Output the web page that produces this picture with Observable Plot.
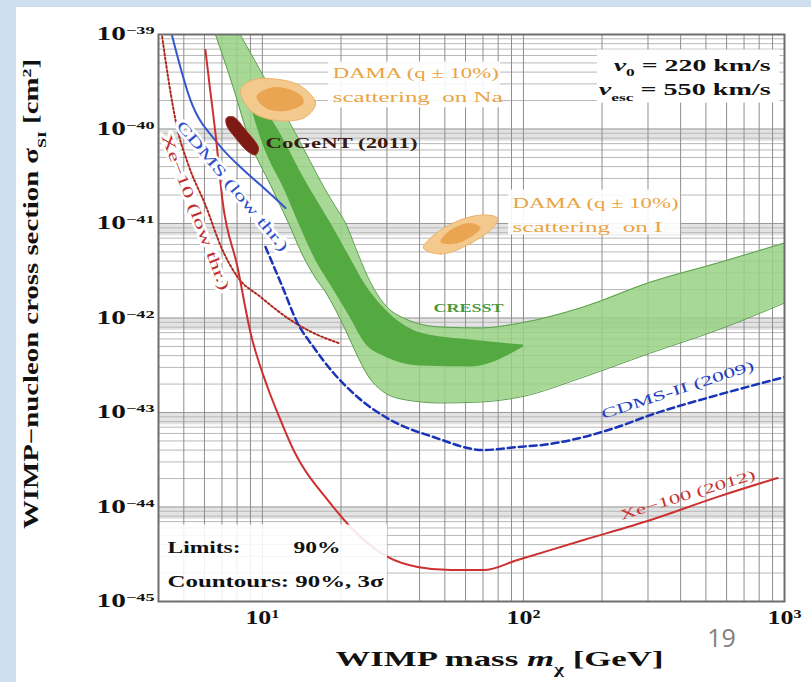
<!DOCTYPE html>
<html><head><meta charset="utf-8">
<script src="https://cdn.jsdelivr.net/npm/d3@7"></script>
<script src="https://cdn.jsdelivr.net/npm/@observablehq/plot@0.6"></script>
<style>
html,body{margin:0;padding:0;background:#fff;}
#wrap{position:relative;width:811px;height:682px;overflow:hidden;background:#fff;}
#chart{position:absolute;left:0;top:0;}
.strip{position:absolute;background:#cfdff0;}
</style></head><body>
<div id="wrap"><div id="chart"></div>
<div class="strip" style="left:0;top:0;width:811px;height:7px"></div>
<div class="strip" style="left:0;top:0;width:16px;height:682px"></div></div>
<script>
// ---------- data (WIMP mass in GeV, cross section in cm^2) ----------
const cresstMass   = [6.61, 7.68, 9.01, 10.74, 12.59, 14.25, 15.98, 17.45, 19.06, 20.82, 22.75, 25.28, 29.11, 35.36, 48.14, 68.5, 97.5, 170, 306.9, 554.4, 1000];
const cresst2Low   = [1.0e-39, 2.92e-40, 7.11e-41, 2.55e-41, 1.01e-41, 4.64e-42, 2.65e-42, 1.88e-42, 1.22e-42, 7.46e-43, 4.37e-43, 2.49e-43, 1.65e-43, 1.36e-43, 1.26e-43, 1.29e-43, 1.46e-43, 2.37e-43, 4.26e-43, 7.46e-43, 1.44e-42];
const cresst2High  = [3e-39, 1.40e-39, 6.37e-40, 2.67e-40, 1.23e-40, 6.49e-41, 3.54e-41, 2.26e-41, 1.51e-41, 1.01e-41, 5.55e-42, 2.76e-42, 1.44e-42, 9.76e-43, 8.03e-43, 7.84e-43, 8.85e-43, 1.31e-42, 2.40e-42, 3.82e-42, 6.22e-42];
const cresst1Mass  = [8.62, 10.0, 12.26, 14.0, 15.98, 18.24, 21.38, 24.84, 29.63, 40.35, 62.72, 100.1];
const cresst1Low   = [2.78e-40, 7.11e-41, 2.15e-41, 9.06e-42, 4.11e-42, 2.23e-42, 1.08e-42, 5.31e-43, 3.87e-43, 3.10e-43, 3.03e-43, 4.93e-43];
const cresst1High  = [2.99e-40, 1.79e-40, 7.11e-41, 3.51e-41, 1.86e-41, 1.01e-41, 4.64e-42, 2.23e-42, 1.22e-42, 6.94e-43, 5.85e-43, 5.18e-43];

const cdmsLowMass  = [4.45, 5.30, 6.73, 8.47, 9.84, 12.26];
const cdmsLowSigma = [1.12e-39, 2.03e-40, 7.11e-41, 3.68e-41, 2.55e-41, 1.46e-41];

const cdms2Mass    = [10.28, 11.94, 13.63, 15.70, 18.73, 23.14, 30.97, 45.25, 70.35, 94.95, 127, 170, 229.4, 306.9, 554.4, 1000];
const cdms2Sigma   = [5.64e-42, 2.13e-42, 8.85e-43, 4.93e-43, 2.62e-43, 1.46e-43, 8.33e-44, 5.50e-44, 4.01e-44, 4.31e-44, 4.65e-44, 5.50e-44, 7.02e-44, 9.41e-44, 1.53e-43, 2.37e-43];

const xe100Mass    = [6.05, 6.32, 6.61, 7.03, 8.03, 9.01, 10.46, 11.73, 13.16, 14.0, 17.77, 21.76, 30.16, 39.29, 52.59, 70.35, 94.95, 170, 306.9, 554.4, 941];
const xe100Sigma   = [6.85e-40, 2.49e-40, 9.07e-41, 1.77e-41, 3.46e-42, 6.94e-43, 1.86e-43, 8.33e-44, 4.01e-44, 2.92e-44, 1.19e-44, 6.14e-45, 2.96e-45, 2.32e-45, 2.15e-45, 2.15e-45, 2.75e-45, 4.47e-45, 7.29e-45, 1.28e-44, 2.03e-44];

const xe10Mass     = [4.11, 4.37, 4.69, 5.21, 6.05, 7.03, 8.03, 9.84, 12.82, 15.70, 19.57];
const xe10Sigma    = [1.05e-39, 3.30e-40, 1.10e-40, 4.16e-41, 1.57e-41, 5.25e-42, 2.72e-42, 1.67e-42, 9.52e-43, 6.94e-43, 5.44e-43];

const damaNaMass   = [8.25, 9.16, 11.23, 14.0, 15.98, 14.63, 11.73, 9.16];
const damaNaSigma  = [2.59e-40, 3.30e-40, 3.38e-40, 2.85e-40, 1.88e-40, 1.34e-40, 1.22e-40, 1.51e-40];
const damaNaInMass = [9.5, 11.23, 14.0, 14.38, 12.26, 10.28];
const damaNaInSig  = [2.23e-40, 2.78e-40, 2.29e-40, 1.88e-40, 1.55e-40, 1.67e-40];
const damaIMass    = [41.4, 48.14, 60.0, 76.1, 79.6, 69.7, 54.9, 44.07];
const damaISigma   = [5.51e-42, 4.75e-42, 5.78e-42, 8.96e-42, 1.14e-41, 1.23e-41, 1.04e-41, 7.03e-42];
const damaIInMass  = [48.14, 56.4, 68.5, 62.72, 52.59];
const damaIInSig   = [6.37e-42, 6.22e-42, 8.96e-42, 1.01e-41, 8.53e-42];
const cogentMass   = [7.29, 7.75, 8.62, 9.66, 9.41, 8.85, 7.89, 7.29];
const cogentSigma  = [1.31e-40, 1.34e-40, 9.76e-41, 6.29e-41, 5.31e-41, 5.71e-41, 8.04e-41, 1.10e-40];

const xTicks = [10, 100, 1000];
const yTicks = [1e-45, 1e-44, 1e-43, 1e-42, 1e-41, 1e-40, 1e-39];

// annotation texts and anchors (mass, sigma)
const damaNaText  = ["DAMA (q ± 10%)", "scattering  on Na"];
const damaNaTextS = [3.92e-40, 2.18e-40];
const damaIText   = ["DAMA (q ± 10%)", "scattering  on I"];
const damaITextS  = [1.65e-41, 9.18e-42];
const velText     = ["*{v}_{0} = 220 km/s", "*{v}_{esc} = 550 km/s"];
const velTextS    = [4.75e-40, 2.59e-40];

// ---------- helpers ----------
const pts = (ms, ss) => ms.map((m, i) => ({m, s: ss[i]}));
const band = (ms, lo, hi) => ms.map((m, i) => ({m, lo: lo[i], hi: hi[i]}));
const xGrid = [];
for (const b of [1, 10, 100]) for (let k = 1; k <= 9; k++) if (k * b >= 4) xGrid.push(k * b);
xGrid.push(1000);
const yMinor = [];
for (const d of yTicks.slice(0, -1)) for (let k = 2; k <= 9; k++) yMinor.push(k * d);
const bandDecades = yTicks.slice(1, -1);
const expFmt = d => "10^{" + String(Math.round(Math.log10(d))).replace("-", "−") + "}";
const serif = "'Liberation Serif', 'Times New Roman', serif";

const chart = Plot.plot({
  width: 811, height: 682,
  marginLeft: 158, marginRight: 27, marginTop: 34, marginBottom: 81,
  style: {background: "transparent", fontFamily: serif, color: "#111"},
  x: {type: "log", domain: [4, 1000]},
  y: {type: "log", domain: [1e-45, 1e-39]},
  marks: [
    // grid
    Plot.rect(bandDecades, {x1: () => 4, x2: () => 1000, y1: d => d * 0.74, y2: d => d, fill: "#e3e3e3"}),
    Plot.ruleY(yMinor, {stroke: "#b8b8b8", strokeWidth: 1}),
    Plot.ruleY(yTicks, {stroke: "#9a9a9a", strokeWidth: 1.2}),
    Plot.ruleX(xGrid, {stroke: "#8e8e8e", strokeWidth: 1}),
    // CRESST bands
    Plot.area(band(cresstMass, cresst2Low, cresst2High), {x1: "m", y1: "lo", y2: "hi", fill: "#98d184", fillOpacity: 0.85, curve: "monotone-x", clip: true}),
    Plot.line(pts(cresstMass, cresst2Low), {x: "m", y: "s", stroke: "#5d9e4e", strokeWidth: 1, curve: "monotone-x", clip: true}),
    Plot.line(pts(cresstMass, cresst2High), {x: "m", y: "s", stroke: "#5d9e4e", strokeWidth: 1, curve: "monotone-x", clip: true}),
    Plot.area(band(cresst1Mass, cresst1Low, cresst1High), {x1: "m", y1: "lo", y2: "hi", fill: "#4fa83c", fillOpacity: 0.95, curve: "monotone-x", clip: true}),
    // DAMA and CoGeNT regions
    Plot.line(pts(damaNaMass, damaNaSigma), {x: "m", y: "s", curve: "catmull-rom-closed", fill: "#f4c98e", stroke: "#eab26a", strokeWidth: 1}),
    Plot.line(pts(damaNaInMass, damaNaInSig), {x: "m", y: "s", curve: "catmull-rom-closed", fill: "#eaa552", stroke: "none"}),
    Plot.line(pts(damaIMass, damaISigma), {x: "m", y: "s", curve: "catmull-rom-closed", fill: "#f4c98e", stroke: "#eab26a", strokeWidth: 1}),
    Plot.line(pts(damaIInMass, damaIInSig), {x: "m", y: "s", curve: "catmull-rom-closed", fill: "#eaa552", stroke: "none"}),
    Plot.line(pts(cogentMass, cogentSigma), {x: "m", y: "s", curve: "catmull-rom-closed", fill: "#7d1a14", stroke: "#9a2a20", strokeWidth: 1}),
    // limits
    Plot.line(pts(xe10Mass, xe10Sigma), {x: "m", y: "s", stroke: "#b02a22", strokeWidth: 2, strokeDasharray: "2,2.2", curve: "monotone-x", clip: true}),
    Plot.line(pts(cdmsLowMass, cdmsLowSigma), {x: "m", y: "s", stroke: "#3456cc", strokeWidth: 2, curve: "monotone-x", clip: true}),
    Plot.line(pts(cdms2Mass, cdms2Sigma), {x: "m", y: "s", stroke: "#1a34b8", strokeWidth: 2.5, strokeDasharray: "7,4", curve: "monotone-x", clip: true}),
    Plot.line(pts(xe100Mass, xe100Sigma), {x: "m", y: "s", stroke: "#cc3030", strokeWidth: 2, curve: "monotone-x", clip: true}),
    // boxes behind annotations
    Plot.rect([0], {x1: () => 192, x2: () => 960, y1: () => 1.88e-40, y2: () => 6.85e-40, fill: "white"}),
    Plot.rect([0], {x1: () => 17.9, x2: () => 81.7, y1: () => 1.67e-40, y2: () => 5.12e-40, fill: "white", fillOpacity: 0.9}),
    Plot.rect([0], {x1: () => 87.7, x2: () => 400, y1: () => 7.55e-42, y2: () => 2.26e-41, fill: "white", fillOpacity: 0.9}),
    Plot.rect([0], {x1: () => 4, x2: () => 30.16, y1: () => 1e-45, y2: () => 6.45e-45, fill: "white", fillOpacity: 0.88}),
    // labels
    Plot.text(damaNaText, {x: () => 18.6, y: (d, i) => damaNaTextS[i], textAnchor: "start", fill: "#e9a443", fontSize: 15, fontWeight: "normal"}),
    Plot.text(damaIText, {x: () => 90.8, y: (d, i) => damaITextS[i], textAnchor: "start", fill: "#e9a443", fontSize: 15, fontWeight: "normal"}),
    Plot.text(["CoGeNT (2011)"], {x: () => 10.28, y: () => 7.11e-41, textAnchor: "start", fill: "#3a1a12", fontSize: 15, fontWeight: "bold"}),
    Plot.text(["CRESST"], {x: () => 61.6, y: () => 1.28e-42, fill: "#4a9a3a", fontSize: 13, fontWeight: "bold"}),
    Plot.text(["CDMS-II (2009)"], {x: () => 389.5, y: () => 1.73e-43, rotate: -18, fill: "#2540c0", fontSize: 14, fontWeight: "normal"}),
    Plot.text(["Xe−100 (2012)"], {x: () => 425.5, y: () => 1.34e-44, rotate: -17, fill: "#c83232", fontSize: 14, fontWeight: "normal"}),
    Plot.text(["CDMS (low thr.)"], {x: () => 7.68, y: () => 2.49e-41, rotate: 50, fill: "#3050c8", fontSize: 15, fontWeight: "normal", stroke: "white", strokeWidth: 5}),
    Plot.text(["Xe−10 (low thr.)"], {x: () => 5.54, y: () => 1.32e-41, rotate: 69, fill: "#c03030", fontSize: 15, fontWeight: "normal", stroke: "white", strokeWidth: 5}),
    Plot.text(velText, {x: () => 885, y: (d, i) => velTextS[i], textAnchor: "end", fill: "#111", fontSize: 17, fontWeight: "bold"}),
    Plot.text(["Limits:"], {x: () => 4.33, y: () => 3.68e-45, textAnchor: "start", fontSize: 16, fontWeight: "bold"}),
    Plot.text(["90%"], {x: () => 13.16, y: () => 3.68e-45, textAnchor: "start", fontSize: 16, fontWeight: "bold"}),
    Plot.text(["Countours: 90%, 3σ"], {x: () => 4.33, y: () => 1.61e-45, textAnchor: "start", fontSize: 16, fontWeight: "bold"}),
    // frame and axes
    Plot.frame({stroke: "#6e6e6e", strokeWidth: 2}),
    Plot.axisY({ticks: yTicks, tickFormat: expFmt, tickSize: 0, tickPadding: 4, fontSize: 18, fontWeight: "bold", label: null}),
    Plot.axisX({ticks: xTicks, tickFormat: expFmt, tickSize: 0, tickPadding: 9, fontSize: 19, fontWeight: "bold", label: null}),
    Plot.text(["WIMP−nucleon cross section σ_{SI} [cm^{2}]"], {frameAnchor: "left", dx: -127, dy: -24, rotate: -90, textAnchor: "middle", lineAnchor: "middle", fontSize: 21, fontWeight: "bold"}),
    Plot.text(["WIMP mass *{m}_{χ} [GeV]"], {frameAnchor: "bottom", dx: 28, dy: 57, textAnchor: "middle", lineAnchor: "middle", fontSize: 22, fontWeight: "bold"}),
    Plot.text(["19"], {frameAnchor: "bottom-right", dx: -63, dy: 37, textAnchor: "middle", lineAnchor: "middle", fontSize: 25, fontWeight: "normal", fontFamily: "'Open Sans', 'Liberation Sans', sans-serif", fill: "#808080"})
  ]
});
document.getElementById("chart").appendChild(chart);

// widths of the (horizontally stretched) texts in the original figure, px
const textWidths = {
  "WIMP−nucleon cross section σ_{SI} [cm^{2}]": 470,
  "WIMP mass *{m}_{χ} [GeV]": 328,
  "DAMA (q ± 10%)": 166,
  "scattering  on Na": 170,
  "scattering  on I": 150,
  "CoGeNT (2011)": 152,
  "CRESST": 70,
  "CDMS-II (2009)": 160,
  "Xe−100 (2012)": 141,
  "CDMS (low thr.)": 165,
  "Xe−10 (low thr.)": 166,
  "*{v}_{0} = 220 km/s": 157,
  "*{v}_{esc} = 550 km/s": 172,
  "Limits:": 73,
  "90%": 47,
  "Countours: 90%, 3σ": 216
};
const root = d3.select(chart);
root.selectAll('g[aria-label="y-axis tick label"] text').attr("data-w", 58);
root.selectAll('g[aria-label="x-axis tick label"] text').attr("data-w", 34);
root.selectAll("text").each(function () {
  const t = this.textContent;
  if (textWidths[t]) this.setAttribute("data-w", textWidths[t]);
  if (!/[_^*]\{/.test(t)) return;
  const parts = t.split(/([_^*]\{[^}]*\})/);
  this.textContent = "";
  for (const p of parts) {
    if (!p) continue;
    const m = p.match(/^([_^*])\{([^}]*)\}$/);
    const ts = d3.select(this).append("tspan");
    if (!m) { ts.text(p); continue; }
    ts.text(m[2]);
    if (m[1] === "*") ts.attr("font-style", "italic");
    else ts.attr("baseline-shift", m[1] === "^" ? "super" : "sub").attr("font-size", "62%");
  }
});
root.selectAll("text[data-w]").each(function () {
  this.setAttribute("textLength", this.getAttribute("data-w"));
  this.setAttribute("lengthAdjust", "spacingAndGlyphs");
});
</script>
</body></html>
